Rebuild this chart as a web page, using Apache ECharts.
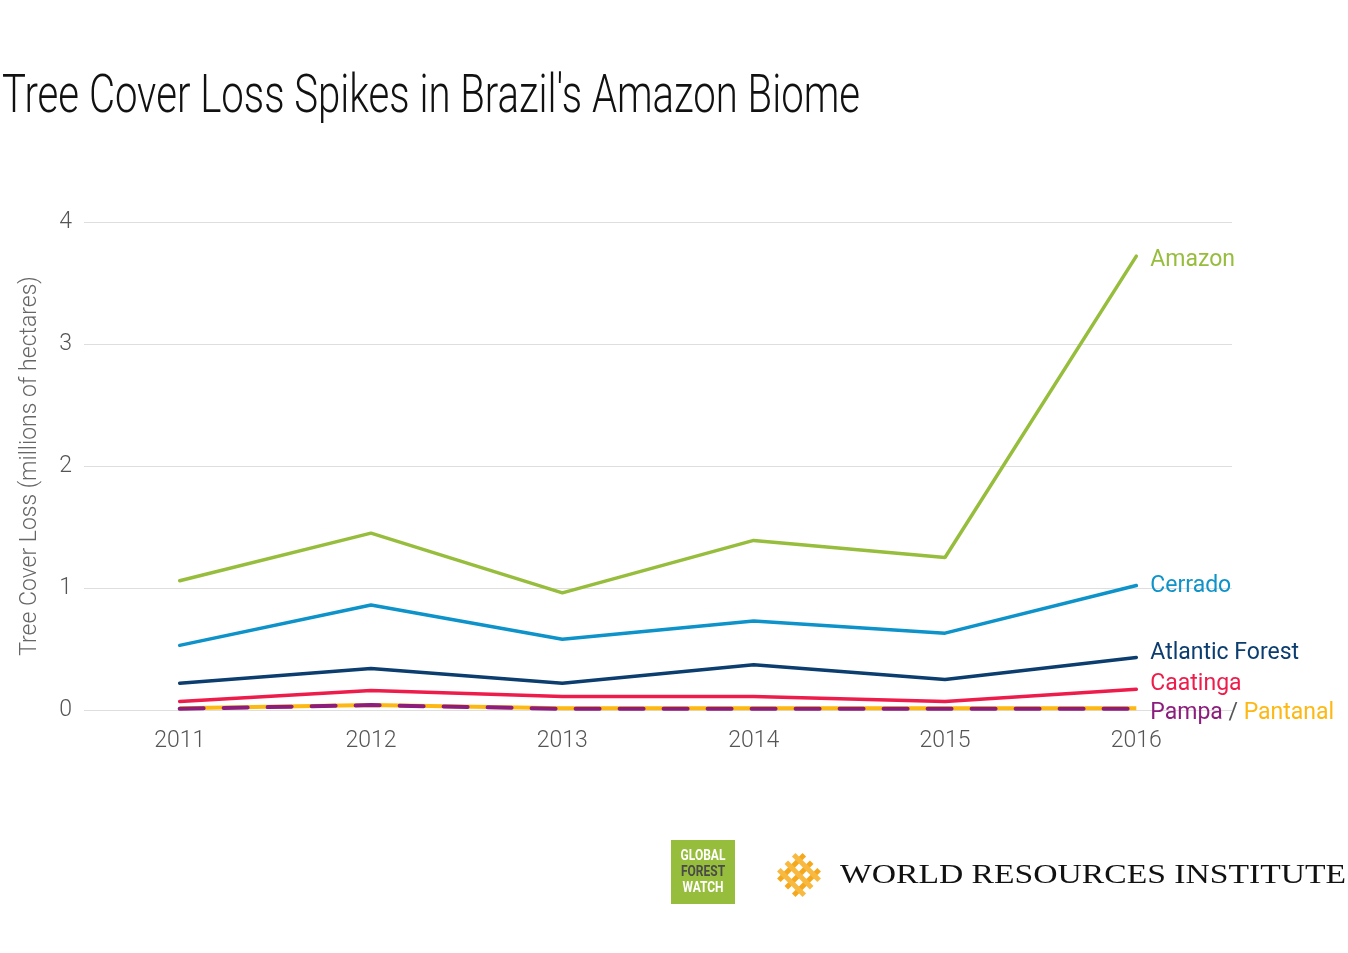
<!DOCTYPE html>
<html>
<head>
<meta charset="utf-8">
<script src="https://cdn.jsdelivr.net/npm/echarts@6/dist/echarts.min.js"></script>
<style>html,body{margin:0;padding:0;background:#fff;}#c{width:1348px;height:953px;}</style>
</head>
<body>
<div id="c"></div>
<script>
const years = ['2011', '2012', '2013', '2014', '2015', '2016'];
const amazon = [1.06, 1.45, 0.96, 1.39, 1.25, 3.72];
const cerrado = [0.53, 0.86, 0.58, 0.73, 0.63, 1.02];
const atlantic = [0.22, 0.34, 0.22, 0.37, 0.25, 0.43];
const caatinga = [0.07, 0.16, 0.11, 0.11, 0.07, 0.17];
const pampa = [0.01, 0.04, 0.01, 0.01, 0.01, 0.01];
const pantanal = [0.015, 0.04, 0.015, 0.015, 0.015, 0.015];
const yTicks = [0, 1, 2, 3, 4];
const titleText = "Tree Cover Loss Spikes in Brazil's Amazon Biome";
const yName = 'Tree Cover Loss (millions of hectares)';

const FONT = "Roboto, 'Noto Sans', sans-serif";
const C = {amazon:'#97bd3d', cerrado:'#0d93c9', atlantic:'#0b3d6f', caatinga:'#ee1c4b', pampa:'#8c1d7d', pantanal:'#fdb813'};

function fitScale(text, font, target){
  const cv = document.createElement('canvas').getContext('2d');
  cv.font = font;
  return target / cv.measureText(text).width;
}
const TITLE_FONT = "300 54px Roboto";
const titleScale = fitScale(titleText, TITLE_FONT, 858);
const wriText = 'WORLD RESOURCES INSTITUTE';
const WRI_FONT = "28px 'Liberation Serif', serif";
const wriScale = fitScale(wriText, WRI_FONT, 506);

function endLbl(color, dy){
  return {show:true, color, fontFamily:FONT, fontSize:23, distance:14, offset:[0, dy||0], formatter:'{a}'};
}
function mkLine(name, data, color, extra){
  return Object.assign({
    name, type:'line', data, symbol:'none', smooth:false,
    lineStyle:{color, width:3.5, cap:'round'},
    itemStyle:{color},
    emphasis:{disabled:true},
    endLabel:endLbl(color, 0)
  }, extra||{});
}

const chart = echarts.init(document.getElementById('c'), null, {renderer:'canvas'});
chart.setOption({
  animation:false,
  backgroundColor:'#fff',
  grid:{left:84, right:116, top:222, bottom:243, containLabel:false},
  xAxis:{
    type:'category', data:years, boundaryGap:true,
    axisLine:{show:false}, axisTick:{show:false},
    axisLabel:{color:'#555', fontFamily:FONT, fontWeight:300, fontSize:23, margin:20}
  },
  yAxis:{
    type:'value', min:yTicks[0], max:yTicks[yTicks.length-1], interval:1,
    name:yName, nameLocation:'middle', nameGap:42, nameRotate:90,
    nameTextStyle:{color:'#666', fontFamily:FONT, fontWeight:300, fontSize:23},
    axisLine:{show:false}, axisTick:{show:false},
    axisLabel:{color:'#555', fontFamily:FONT, fontWeight:300, fontSize:23, margin:12, padding:[3,0,0,0]},
    splitLine:{lineStyle:{color:'#dedede', width:1}}
  },
  series:[
    mkLine('Pantanal', pantanal, C.pantanal, {endLabel:{show:false}, lineStyle:{color:C.pantanal, width:4}}),
    mkLine('Pampa', pampa, C.pampa, {
      lineStyle:{color:C.pampa, width:4, type:[24,20], cap:'round'},
      endLabel:{show:true, fontFamily:FONT, fontSize:23, distance:14, offset:[0,4],
        formatter:'{p|Pampa} {s|/} {o|Pantanal}',
        rich:{p:{color:C.pampa, fontFamily:FONT, fontSize:23}, s:{color:'#555', fontFamily:FONT, fontSize:23}, o:{color:C.pantanal, fontFamily:FONT, fontSize:23}}}
    }),
    mkLine('Caatinga', caatinga, C.caatinga, {endLabel:endLbl(C.caatinga, -5)}),
    mkLine('Atlantic Forest', atlantic, C.atlantic, {endLabel:endLbl(C.atlantic, -4)}),
    mkLine('Cerrado', cerrado, C.cerrado, {endLabel:endLbl(C.cerrado, 1)}),
    mkLine('Amazon', amazon, C.amazon, {endLabel:endLbl(C.amazon, 4)})
  ],
  graphic:[
    {type:'text', x:2, y:98, scaleX:titleScale, originX:0,
      style:{text:titleText, fill:'#111', font:TITLE_FONT, verticalAlign:'middle', align:'left'}},
    {type:'rect', shape:{x:671, y:840, width:64, height:64}, style:{fill:'#97bd3d'}},
    {type:'text', x:703, y:856, scaleX:0.8, style:{text:'GLOBAL', fill:'#fff', font:"bold 15px Roboto", align:'center', verticalAlign:'middle'}},
    {type:'text', x:703, y:872, scaleX:0.8, style:{text:'FOREST', fill:'#4a4a4a', font:"bold 15px Roboto", align:'center', verticalAlign:'middle'}},
    {type:'text', x:703, y:888, scaleX:0.8, style:{text:'WATCH', fill:'#fff', font:"bold 15px Roboto", align:'center', verticalAlign:'middle'}},
    {type:'group', x:799, y:875, rotation:Math.PI/4, children:[
      {type:'rect', shape:{x:-18, y:-13, width:36, height:5}, style:{fill:'#f6a81c'}},
      {type:'rect', shape:{x:-18, y:-2.5, width:36, height:5}, style:{fill:'#f6a81c'}},
      {type:'rect', shape:{x:-18, y:8, width:36, height:5}, style:{fill:'#f6a81c'}},
      {type:'rect', shape:{x:-13, y:-18, width:5, height:36}, style:{fill:'#f8b940'}},
      {type:'rect', shape:{x:-2.5, y:-18, width:5, height:36}, style:{fill:'#f8b940'}},
      {type:'rect', shape:{x:8, y:-18, width:5, height:36}, style:{fill:'#f8b940'}}
    ]},
    {type:'text', x:840, y:876, scaleX:wriScale, originX:0,
      style:{text:wriText, fill:'#111', font:WRI_FONT, align:'left', verticalAlign:'middle'}}
  ]
});
</script>
</body>
</html>
